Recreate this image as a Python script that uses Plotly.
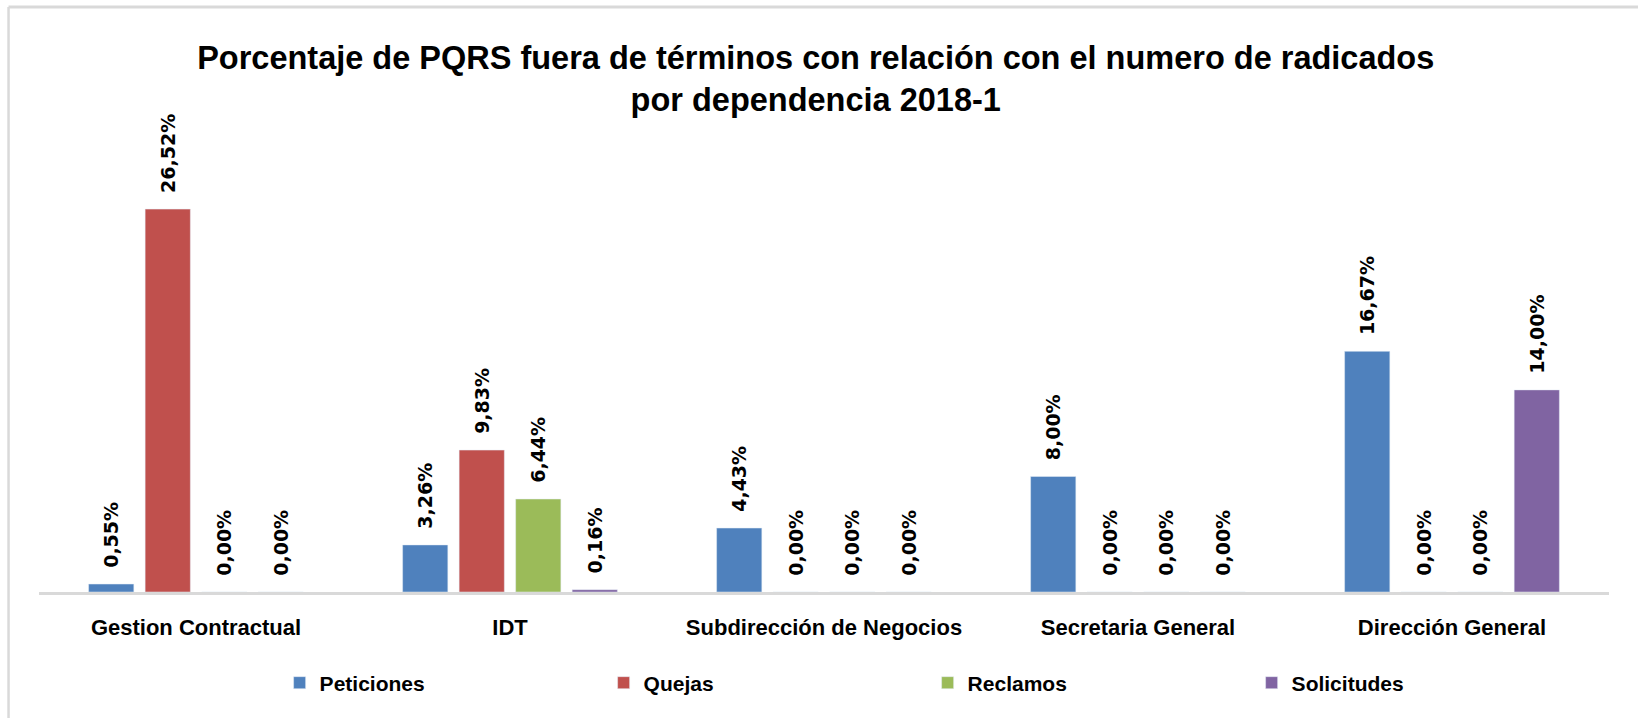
import plotly.graph_objects as go

categories = ["Gestion Contractual", "IDT", "Subdirección de Negocios", "Secretaria General", "Dirección General"]
peticiones = [0.55, 3.26, 4.43, 8.00, 16.67]
quejas = [26.52, 9.83, 0.00, 0.00, 0.00]
reclamos = [0.00, 6.44, 0.00, 0.00, 0.00]
solicitudes = [0.00, 0.16, 0.00, 0.00, 14.00]

series = [
    ("Peticiones", peticiones, "#4F81BD"),
    ("Quejas", quejas, "#C0504D"),
    ("Reclamos", reclamos, "#9BBB59"),
    ("Solicitudes", solicitudes, "#8064A2"),
]

NARROW = "Liberation Sans Narrow, Liberation Sans, Arial, sans-serif"
LABEL = "DejaVu Sans, Verdana, sans-serif"

fig = go.Figure()
for name, vals, color in series:
    fig.add_trace(go.Bar(
        x=categories, y=vals, name=name,
        marker=dict(color=color),
        texttemplate="\u00a0\u00a0%{y:.2f}%",
        textposition="outside", textangle=-90,
        constraintext="none",
        textfont=dict(family=LABEL, size=19, color="black", weight="bold"),
        cliponaxis=False,
    ))

fig.update_layout(
    width=1638, height=718,
    separators=",.",
    paper_bgcolor="white", plot_bgcolor="white",
    margin=dict(l=39, r=29, t=130, b=126, autoexpand=False),
    barmode="group", bargap=0.28, bargroupgap=0.2,
    title=dict(
        text="Porcentaje de PQRS fuera de términos con relación con el numero de radicados<br>por dependencia 2018-1",
        x=0.498, xanchor="center", y=0.904, yanchor="middle",
        font=dict(family=NARROW, size=32.5, color="black", weight="bold"),
    ),
    xaxis=dict(
        showline=True, linecolor="#D9D9D9", linewidth=3,
        ticks="", ticklabelstandoff=14,
        tickfont=dict(family=NARROW, size=22, color="black", weight="bold"),
        showgrid=False,
    ),
    yaxis=dict(range=[0, 32], visible=False, showgrid=False, zeroline=False),
    legend=dict(
        orientation="h", x=0.566, xanchor="center", y=-0.197, yanchor="middle",
        entrywidth=279, entrywidthmode="pixels",
        font=dict(family=NARROW, size=21, color="black", weight="bold"),
    ),
    showlegend=True,
    shapes=[
        dict(type="line", xref="paper", yref="paper",
             x0=-0.0194, x1=1.05, y0=1.2662, y1=1.2662,
             line=dict(color="#D9D9D9", width=3)),
        dict(type="line", xref="paper", yref="paper",
             x0=-0.0194, x1=-0.0194, y0=-0.3, y1=1.2662,
             line=dict(color="#D9D9D9", width=2.5)),
    ],
)

fig.write_html("out.html", config={"displayModeBar": False},
               post_script="document.body.style.margin='0';")
